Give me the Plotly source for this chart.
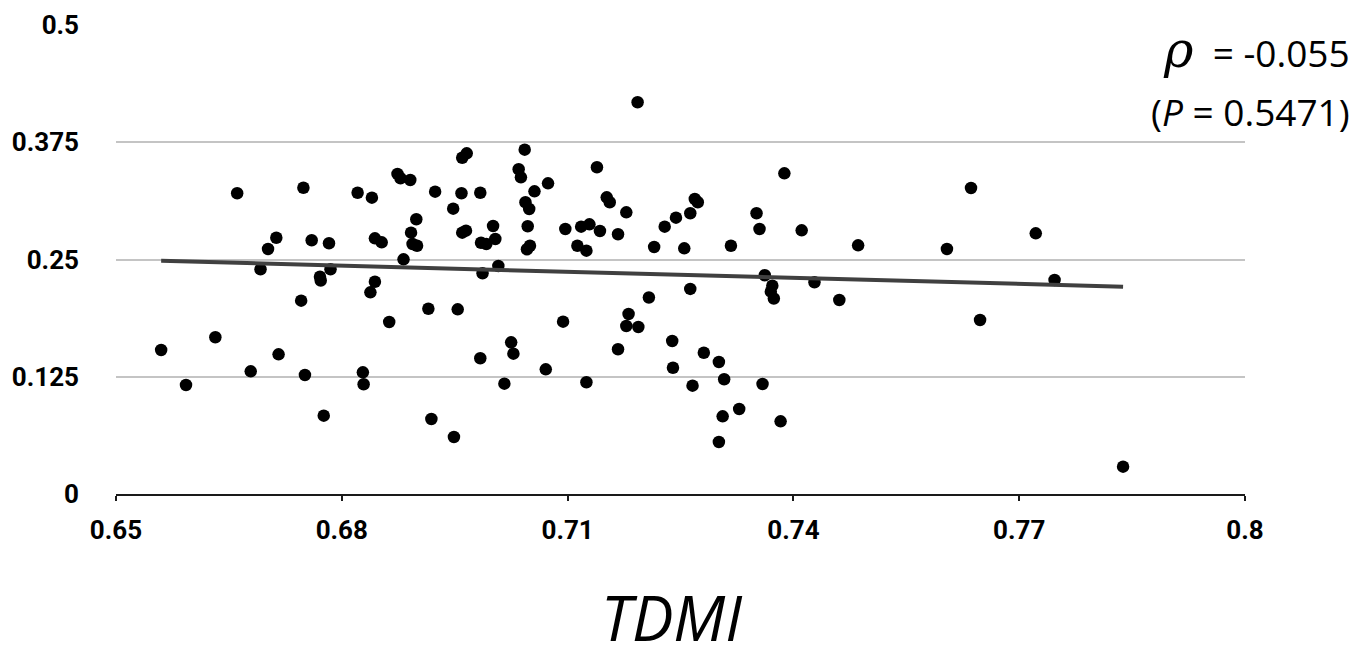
import plotly.graph_objects as go

# TDMI (x) values of each subject
tdmi = [
    0.6560, 0.6593, 0.6632, 0.6661, 0.6679, 0.6692, 0.6702, 0.6713, 0.6716, 0.6746,
    0.6749, 0.6751, 0.6760, 0.6771, 0.6772, 0.6776, 0.6783, 0.6785, 0.6821, 0.6828,
    0.6829, 0.6838, 0.6840, 0.6844, 0.6844, 0.6853, 0.6863, 0.6874, 0.6878, 0.6882,
    0.6891, 0.6892, 0.6894, 0.6899, 0.6900, 0.6915, 0.6919, 0.6924, 0.6948, 0.6949,
    0.6954, 0.6959, 0.6960, 0.6966, 0.6960, 0.6965, 0.6984, 0.6984, 0.6985, 0.6987,
    0.6992, 0.7001, 0.7004, 0.7008, 0.7016, 0.7025, 0.7028, 0.7035, 0.7038, 0.7043,
    0.7044, 0.7049, 0.7046, 0.7050, 0.7047, 0.7056, 0.7071, 0.7074, 0.7094, 0.7097,
    0.7113, 0.7125, 0.7118, 0.7129, 0.7125, 0.7139, 0.7143, 0.7152, 0.7156, 0.7167,
    0.7167, 0.7178, 0.7181, 0.7178, 0.7194, 0.7193, 0.7208, 0.7215, 0.7229, 0.7239,
    0.7240, 0.7244, 0.7255, 0.7263, 0.7263, 0.7266, 0.7269, 0.7273, 0.7281, 0.7301,
    0.7308, 0.7306, 0.7301, 0.7317, 0.7328, 0.7351, 0.7355, 0.7359, 0.7362, 0.7372,
    0.7370, 0.7374, 0.7383, 0.7388, 0.7411, 0.7428, 0.7461, 0.7486, 0.7604, 0.7636,
    0.7648, 0.7722, 0.7747, 0.7838,
]

# y values of each subject
values = [
    0.1535, 0.1162, 0.1671, 0.3206, 0.1308, 0.2396, 0.2612, 0.2732, 0.1489, 0.2061,
    0.3265, 0.1269, 0.2705, 0.2317, 0.2276, 0.0835, 0.2673, 0.2396, 0.3212, 0.1297,
    0.1170, 0.2150, 0.3159, 0.2726, 0.2263, 0.2683, 0.1834, 0.3412, 0.3366, 0.2502,
    0.3348, 0.2786, 0.2665, 0.2929, 0.2647, 0.1975, 0.0800, 0.3223, 0.3042, 0.0608,
    0.1969, 0.3206, 0.3585, 0.3632, 0.2786, 0.2807, 0.1447, 0.3212, 0.2679, 0.2353,
    0.2665, 0.2857, 0.2719, 0.2431, 0.1176, 0.1617, 0.1496, 0.3462, 0.3376, 0.3671,
    0.3110, 0.3038, 0.2609, 0.2647, 0.2854, 0.3227, 0.1329, 0.3312, 0.1837, 0.2825,
    0.2647, 0.2594, 0.2850, 0.2875, 0.1191, 0.3483, 0.2804, 0.3163, 0.3110, 0.2769,
    0.1543, 0.3003, 0.1919, 0.1791, 0.1780, 0.4176, 0.2095, 0.2633, 0.2850, 0.1631,
    0.1346, 0.2946, 0.2619, 0.2993, 0.2186, 0.1155, 0.3145, 0.3110, 0.1506, 0.1407,
    0.1223, 0.0828, 0.0554, 0.2647, 0.0906, 0.2993, 0.2825, 0.1173, 0.2332, 0.2221,
    0.2157, 0.2084, 0.0775, 0.3419, 0.2811, 0.2257, 0.2068, 0.2651, 0.2612, 0.3262,
    0.1855, 0.2779, 0.2281, 0.0291,
]

# linear trend line (end points)
trend_x = [0.6560, 0.7838]
trend_y = [0.2486, 0.2210]

x_tickvals = [0.65, 0.68, 0.71, 0.74, 0.77, 0.80]
x_ticktext = ["0.65", "0.68", "0.71", "0.74", "0.77", "0.8"]
y_tickvals = [0, 0.125, 0.25, 0.375, 0.5]
y_ticktext = ["0", "0.125", "0.25", "0.375", "0.5"]

rho_text = "-0.055"
p_text = "0.5471"
x_title = "TDMI"

TICK_FONT = dict(family="Roboto, sans-serif", size=26, color="black", weight="bold")

fig = go.Figure()
fig.add_trace(go.Scatter(
    x=tdmi, y=values, mode="markers",
    marker=dict(color="black", size=12.5, line=dict(width=0)),
    showlegend=False, hoverinfo="x+y",
))
fig.add_trace(go.Scatter(
    x=trend_x, y=trend_y, mode="lines",
    line=dict(color="#404040", width=4),
    showlegend=False, hoverinfo="skip",
))

# the page body has an 8px margin, so the figure is sized to sit inside the window
fig.update_layout(
    width=1354, height=654,
    margin=dict(l=108, r=117, t=17, b=168, autoexpand=False),
    paper_bgcolor="white", plot_bgcolor="white",
    font=dict(family="Open Sans, sans-serif", color="black"),
    xaxis=dict(
        range=[0.65, 0.80], tickvals=x_tickvals, ticktext=x_ticktext,
        showgrid=False, zeroline=False, automargin=False,
        showline=True, linecolor="#1a1a1a", linewidth=2.2,
        ticks="outside", ticklen=5, tickwidth=1.5, tickcolor="#1a1a1a",
        tickfont=TICK_FONT, ticklabelstandoff=7,
    ),
    yaxis=dict(
        range=[0, 0.5], tickvals=y_tickvals, ticktext=y_ticktext,
        showgrid=True, gridcolor="#c4c4c4", gridwidth=1.5,
        zeroline=False, showline=False, ticks="", automargin=False,
        tickfont=TICK_FONT, ticklabelstandoff=36,
    ),
)

fig.add_annotation(
    xref="paper", yref="paper", x=0.4925, y=-0.356,
    xanchor="center", yanchor="bottom", showarrow=False,
    text="<i>" + x_title + "</i>",
    font=dict(family="Open Sans, sans-serif", size=62, color="black"),
)
fig.add_annotation(
    xref="paper", yref="paper", x=1.0948, y=0.947,
    xanchor="right", yanchor="middle", showarrow=False,
    text="<span style='font-family:DejaVu Serif;font-size:50px'><i>ρ</i></span>&nbsp; = " + rho_text,
    font=dict(family="Open Sans, sans-serif", size=37, color="black"),
)
fig.add_annotation(
    xref="paper", yref="paper", x=1.0948, y=0.8145,
    xanchor="right", yanchor="middle", showarrow=False,
    text="(<i>P</i> = " + p_text + ")",
    font=dict(family="Open Sans, sans-serif", size=37, color="black"),
)

fig.write_html("out.html")
